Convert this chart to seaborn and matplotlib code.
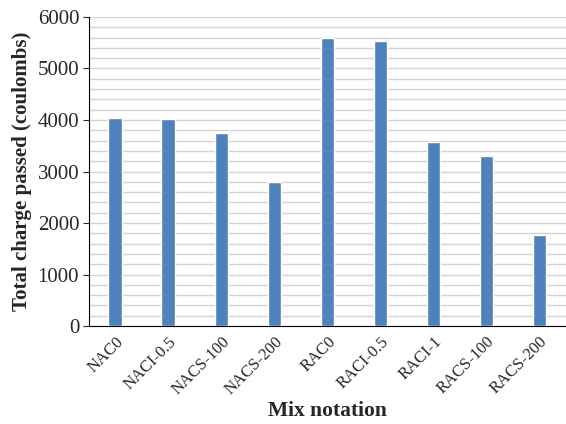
import numpy as np
import pandas as pd
import seaborn as sns
import matplotlib.pyplot as plt

# Mix notation and total charge passed (coulombs)
mixes = ['NAC0', 'NACI-0.5', 'NACS-100', 'NACS-200', 'RAC0', 'RACI-0.5', 'RACI-1', 'RACS-100', 'RACS-200']
charge = [4030, 4020, 3750, 2800, 5600, 5530, 3570, 3300, 1770]

df = pd.DataFrame({'Mix': mixes, 'Charge': charge})

sns.set_style('white')
plt.rcParams['font.family'] = ['Liberation Serif', 'DejaVu Serif']

fig = plt.figure(figsize=(5.66, 4.24), dpi=100)
ax = fig.add_axes([0.157, 0.231, 0.843, 0.729])

sns.barplot(data=df, x='Mix', y='Charge', color='#4f81bd', width=0.26, saturation=1, ax=ax, zorder=3)

ax.set_ylim(0, 6000)
ax.set_yticks(np.arange(0, 6001, 1000))
ax.set_yticks(np.arange(0, 6001, 200), minor=True)
ax.grid(axis='y', which='both', color='#d3d3d3', linewidth=1, zorder=0)
ax.set_axisbelow(True)

for s in ['top', 'right']:
    ax.spines[s].set_visible(False)
ax.spines['left'].set_color('black')
ax.spines['bottom'].set_color('black')

ax.tick_params(axis='y', which='major', left=True, length=4, pad=3, labelsize=15)
ax.tick_params(axis='y', which='minor', left=False)
ax.tick_params(axis='x', bottom=False, pad=2, labelsize=12)
plt.setp(ax.get_xticklabels(), rotation=45, ha='right', rotation_mode='anchor')

ax.set_xlabel('Mix notation', fontsize=15.5, fontweight='bold', labelpad=2)
ax.set_ylabel('Total charge passed (coulombs)', fontsize=15, fontweight='bold', labelpad=4)

plt.savefig('out.png', dpi=100)
